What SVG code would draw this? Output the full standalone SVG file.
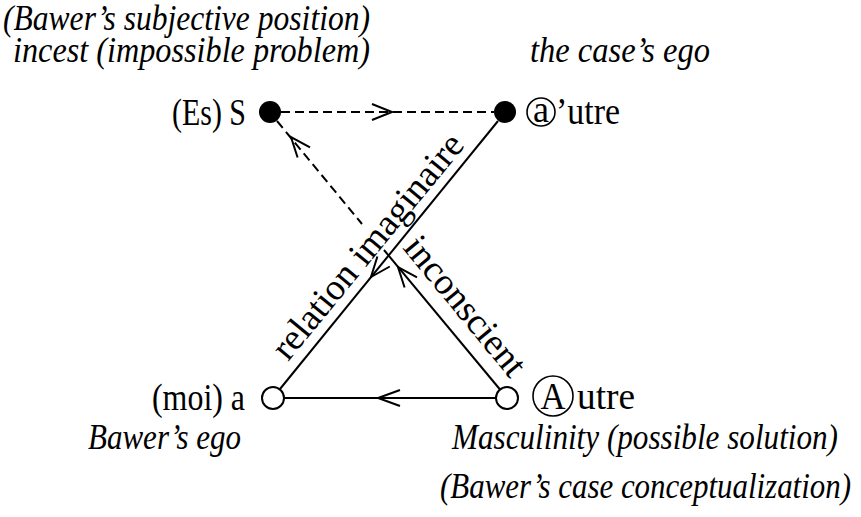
<svg xmlns="http://www.w3.org/2000/svg" width="861" height="517" viewBox="0 0 861 517">
<style>
.it{font-family:"Liberation Serif","Times New Roman",serif;font-style:italic;font-size:35px;fill:#000}
.rm{font-family:"Liberation Serif","Times New Roman",serif;font-size:37px;fill:#000}
.ln{stroke:#000;stroke-width:2;fill:none}
.ds{stroke:#000;stroke-width:2;fill:none;stroke-dasharray:9 5}
.arr{stroke:#000;stroke-width:2;fill:none;stroke-linejoin:miter}
.ring{stroke:#000;stroke-width:1.6;fill:none}
</style>
<rect width="861" height="517" fill="#fff"/>
<g id="annotations">
<text class="it" x="3" y="30" textLength="367" lengthAdjust="spacingAndGlyphs">(Bawer’s subjective position)</text>
<text class="it" x="13" y="62" textLength="357" lengthAdjust="spacingAndGlyphs">incest (impossible problem)</text>
<text class="it" x="530" y="62" textLength="180" lengthAdjust="spacingAndGlyphs">the case’s ego</text>
<text class="it" x="88" y="449" textLength="153" lengthAdjust="spacingAndGlyphs">Bawer’s ego</text>
<text class="it" x="452" y="449" textLength="386" lengthAdjust="spacingAndGlyphs">Masculinity (possible solution)</text>
<text class="it" x="440" y="498" textLength="411" lengthAdjust="spacingAndGlyphs">(Bawer’s case conceptualization)</text>
</g>
<g id="connectors">
<line class="ds" x1="281" y1="112" x2="494" y2="112"/>
<polyline class="arr" points="372,104 392,112 372,120"/>
<line class="ds" x1="277" y1="121" x2="362" y2="224"/>
<polyline class="arr" points="310,147.3 291,137 297.6,157.5"/>
<line class="ln" x1="500" y1="389.5" x2="384" y2="250"/>
<polyline class="arr" points="417,277.3 398,267 404.6,287.5"/>
<line class="ln" x1="498" y1="121" x2="280" y2="389"/>
<polyline class="arr" points="389.8,266.5 371,277 377.4,256.5"/>
<line class="ln" x1="284" y1="398" x2="496" y2="398"/>
<polyline class="arr" points="400,390 378,398 400,406"/>
<text class="rm" transform="translate(288,362) rotate(-50.6)" textLength="280" lengthAdjust="spacingAndGlyphs">relation imaginaire</text>
<text class="rm" transform="translate(402,248) rotate(50.5)" textLength="170" lengthAdjust="spacingAndGlyphs">inconscient</text>
</g>
<g id="node-S">
<circle cx="270" cy="112" r="11" fill="#000"/>
<text class="rm" x="172" y="125" textLength="74" lengthAdjust="spacingAndGlyphs">(Es) S</text>
</g>
<g id="node-autre-a">
<circle cx="505" cy="112" r="11" fill="#000"/>
<circle class="ring" cx="541" cy="112" r="14"/>
<text class="rm" x="541" y="122" text-anchor="middle" textLength="16" lengthAdjust="spacingAndGlyphs">a</text>
<text class="rm" x="556" y="124" textLength="64" lengthAdjust="spacingAndGlyphs">’utre</text>
</g>
<g id="node-moi">
<circle cx="273" cy="398" r="11" fill="#fff" stroke="#000" stroke-width="2"/>
<text class="rm" x="152" y="410" textLength="93" lengthAdjust="spacingAndGlyphs">(moi) a</text>
</g>
<g id="node-Autre">
<circle cx="507" cy="398" r="11" fill="#fff" stroke="#000" stroke-width="2"/>
<circle class="ring" cx="553" cy="396" r="20"/>
<text class="rm" x="553" y="409" text-anchor="middle" textLength="25" lengthAdjust="spacingAndGlyphs">A</text>
<text class="rm" x="577" y="409" textLength="58" lengthAdjust="spacingAndGlyphs">utre</text>
</g>
</svg>
